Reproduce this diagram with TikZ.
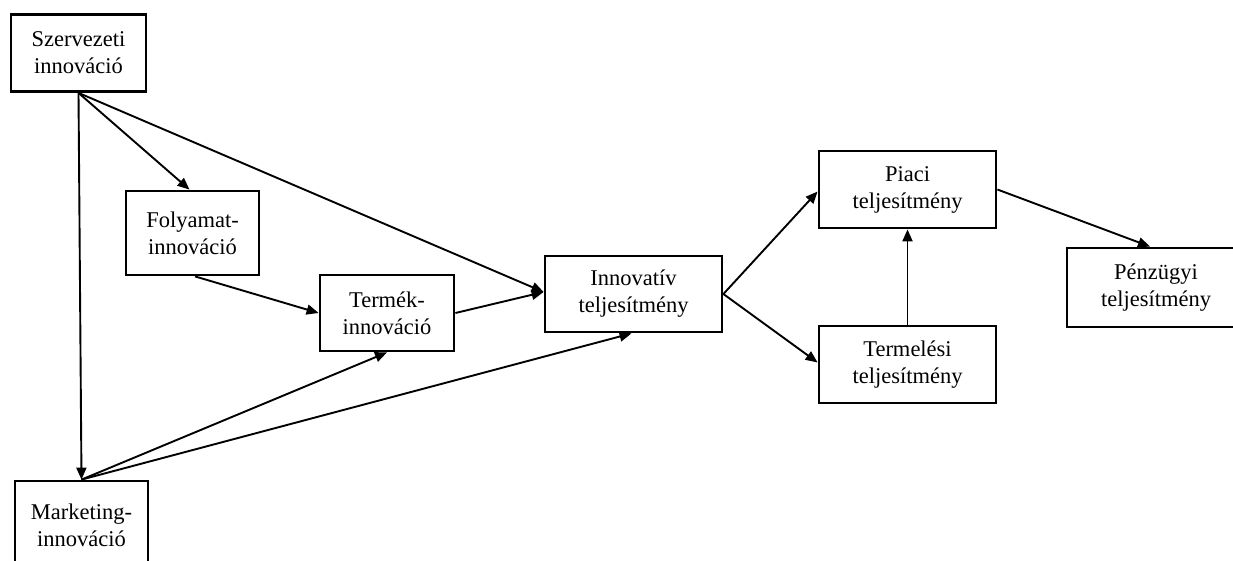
\documentclass[tikz,border=0pt]{standalone}
\usepackage{fontspec}
\setmainfont{Liberation Serif}
\usetikzlibrary{arrows.meta,calc}
\begin{document}
\begin{tikzpicture}[x=1pt,y=-1pt,
  box/.style={draw=black,line width=2.8pt,inner sep=0pt,align=center,
    font=\fontsize{22.5pt}{27pt}\selectfont,fill=white},
  conn/.style={draw=black,line width=1.9pt,-{Triangle[length=12pt,width=10pt]}}]
\clip (0,0) rectangle (1233,561);
\fill[white] (0,0) rectangle (1233,561);
\node[box,minimum width=135pt,minimum height=77pt] (sz) at (78.5,53) {Szervezeti\\innováció};
\node[box,minimum width=133pt,minimum height=84pt] (fo) at (192.5,233) {Folyamat-\\innováció};
\node[box,minimum width=134pt,minimum height=76pt] (te) at (387,313) {Termék-\\innováció};
\node[box,minimum width=177pt,minimum height=76pt] (in) at (633.5,294) {Innovatív\\teljesítmény};
\node[box,minimum width=177pt,minimum height=77pt] (pi) at (907.5,189.5) {Piaci\\teljesítmény};
\node[box,minimum width=177pt,minimum height=77pt] (tm) at (907.5,364.5) {Termelési\\teljesítmény};
\node[box,minimum width=178pt,minimum height=79pt] (pe) at (1156,287.5) {Pénzügyi\\teljesítmény};
\node[box,minimum width=133pt,minimum height=88pt] (ma) at (81.5,525) {Marketing-\\innováció};
\draw[conn] (sz.south) -- (ma.north);
\draw[conn] (sz.south) -- ([xshift=-3pt]fo.north);
\draw[conn] (sz.south) -- ([yshift=2pt]in.west);
\draw[conn] ([xshift=2.5pt]fo.south) -- (te.west);
\draw[conn] (te.east) -- ([yshift=2pt]in.west);
\draw[conn] (ma.north) -- (te.south);
\draw[conn] (ma.north) -- ([xshift=-2pt]in.south);
\draw[conn] (in.east) -- ([yshift=-2pt]pi.west);
\draw[conn] (in.east) -- ([yshift=2pt]tm.west);
\draw[conn] (tm.north) -- (pi.south);
\draw[conn] (pi.east) -- ([xshift=-6pt]pe.north);
\end{tikzpicture}
\end{document}
